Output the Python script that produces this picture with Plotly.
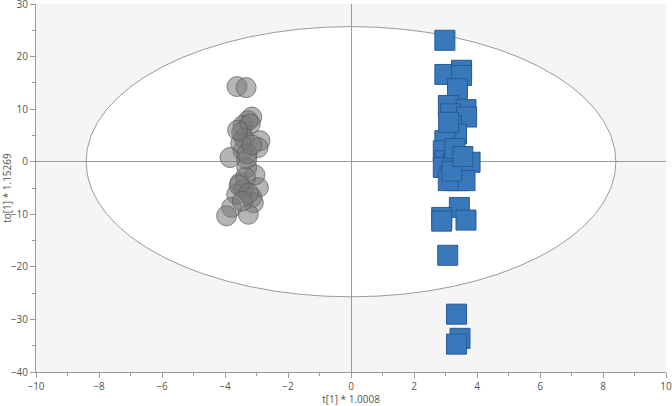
import plotly.graph_objects as go

# Group 1 (grey circles)
g1_x = [-3.62, -3.33, -3.15, -3.27, -3.43, -3.47, -2.89, -2.95, -3.43, -3.84, -3.31, -3.31,
        -3.52, -2.94, -3.42, -3.63, -3.15, -3.10, -3.79, -3.95, -3.26, -3.20, -3.40, -3.50,
        -3.30, -3.05, -3.35, -3.55, -3.25, -3.45, -3.15, -3.60]
g1_y = [14.3, 14.1, 8.5, 7.8, 6.9, 5.6, 4.0, 2.7, 2.1, 0.8, 0.5, -1.1,
        -4.0, -4.9, -5.2, -6.2, -6.8, -7.8, -8.7, -10.3, -10.0, 7.2, 4.5, 3.5,
        1.5, -2.5, -3.0, -4.5, -6.0, -7.5, 3.2, 6.0]

# Group 2 (blue squares)
g2_x = [2.98, 2.98, 3.51, 3.51, 3.38, 3.09, 3.65, 3.16, 3.67, 3.19, 3.35, 2.98,
        2.93, 2.98, 2.93, 3.25, 3.78, 3.14, 3.35, 3.62, 3.09, 3.44, 2.88, 2.88,
        3.65, 3.07, 3.35, 3.46, 3.35, 3.10, 3.30, 3.20, 3.55]
g2_y = [23.1, 16.6, 17.4, 16.4, 13.9, 10.7, 9.9, 9.1, 8.5, 6.9, 5.3, 4.0,
        2.1, 0.2, -1.1, -0.4, -0.1, -2.7, -3.6, -3.6, -3.6, -8.7, -10.6, -11.3,
        -11.1, -17.8, -29.0, -33.6, -34.7, 7.5, 2.5, -1.8, 1.0]

# Hotelling T2 ellipse radii
ell_rx = 8.41
ell_ry = 25.7

x_title = "t[1] * 1.0008"
y_title = "to[1] * 1.15269"

fig = go.Figure()
fig.add_shape(type="circle", xref="x", yref="y", x0=-ell_rx, x1=ell_rx, y0=-ell_ry, y1=ell_ry,
              line=dict(color="#9a9a9a", width=1), fillcolor="rgba(255,255,255,1)", layer="below")
fig.add_trace(go.Scatter(x=g1_x, y=g1_y, mode="markers",
                         marker=dict(symbol="circle", size=20, color="rgba(120,120,120,0.55)",
                                     line=dict(color="rgba(90,90,90,0.7)", width=1)),
                         showlegend=False))
fig.add_trace(go.Scatter(x=g2_x, y=g2_y, mode="markers",
                         marker=dict(symbol="square", size=20, color="#3a78bc",
                                     line=dict(color="#2a5a92", width=1)),
                         showlegend=False))

fig.update_layout(
    width=672, height=406,
    margin=dict(l=36, r=6, t=4, b=34),
    paper_bgcolor="white", plot_bgcolor="#f5f5f5",
    font=dict(family="Open Sans, Noto Sans, sans-serif", size=10, color="#555555"),
)
axis_common = dict(showgrid=False, zeroline=True, zerolinecolor="#9a9a9a", zerolinewidth=1,
                   showline=True, linecolor="#9a9a9a", linewidth=1, ticks="outside",
                   tickcolor="#9a9a9a", ticklen=5, tickfont=dict(size=10, color="#555555"),
                   automargin=False, ticklabeloverflow="allow")
fig.update_xaxes(range=[-10, 10], dtick=2, title=dict(text=x_title, standoff=2, font=dict(size=10)),
                 minor=dict(dtick=1, ticks="outside", ticklen=3, tickcolor="#9a9a9a"), **axis_common)
fig.update_yaxes(range=[-40, 30], dtick=10, title=dict(text=y_title, standoff=2, font=dict(size=10)),
                 minor=dict(dtick=5, ticks="outside", ticklen=3, tickcolor="#9a9a9a"), **axis_common)

fig.write_html("out.html", config={"displayModeBar": False},
               post_script="document.body.style.margin='0';document.body.style.overflow='hidden';")
